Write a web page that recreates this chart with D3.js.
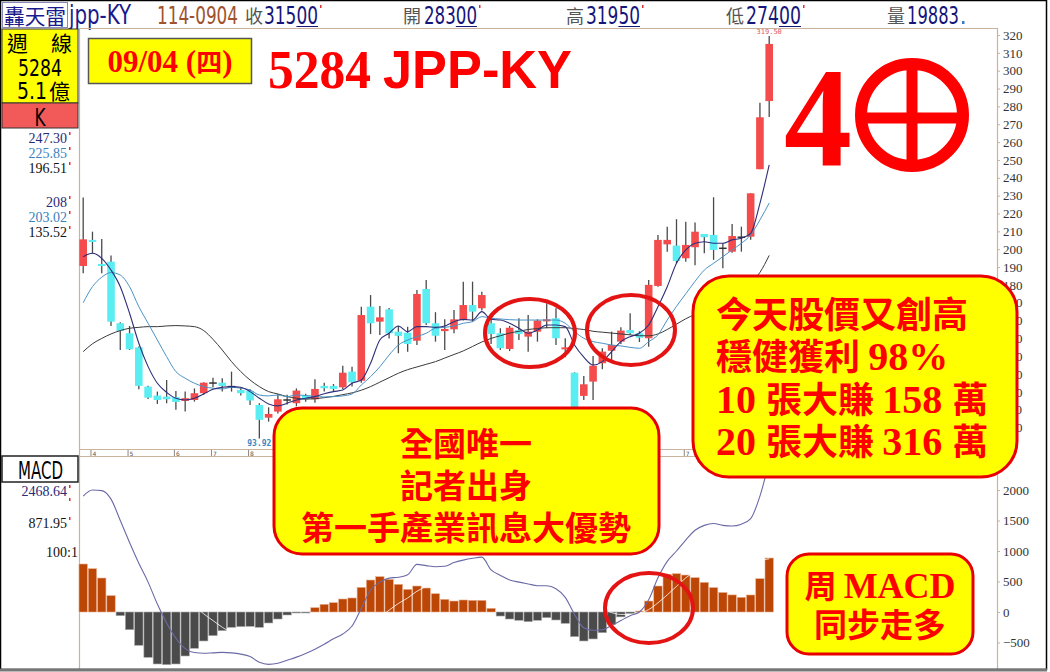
<!DOCTYPE html>
<html>
<head>
<meta charset="utf-8">
<script src="https://cdn.jsdelivr.net/npm/d3@7"></script>
<style>
  body { margin: 0; background: #fff; }
  svg { display: block; }
</style>
</head>
<body>
<svg id="chart"></svg>
<script>
// weekly candles, 5284 JPP-KY (oldest -> newest)
const opens  = [190.6,205.2,191.7,193,158.5,152.9,145,123,118,117.4,117.1,115,115.5,119.3,125,125.2,123,121.1,120.6,112.7,105.6,109,115.5,113.7,118,115.9,123.4,123.4,122.6,131.4,126.3,167.8,159.4,166.3,153.8,153.2,148.7,177.7,158.5,154.1,155.1,160.3,168.7,166.9,158.5,152.9,144.1,154.7,151,153.8,159.8,161.3,143.9,130.8,117.8,125.8,136.1,143.1,148.2,154.7,152.9,150.1,179.4,202.7,202,194.9,201.1,208.5,208,200.5,198.6,206.7,207,244.8,283];
const highs  = [229,209.8,205.7,196.4,159,157,145.5,123.5,120.2,126.7,120.6,120.2,122,125.5,128,127.7,131.4,122.5,121.5,113.7,111.4,118.9,118.5,122,119,127.1,125.2,124.5,134.7,134.1,167.8,174.3,168.2,167,157,156.6,177.1,182.7,164.7,160.7,165.9,181.8,181.8,176.2,164.1,155.7,157,161.3,163.1,160.7,169.7,166.9,150.1,131,128.9,140.2,144.5,153.8,156.2,164.1,154,182.7,208,212.6,216.8,215.4,214.9,208.5,229.1,203.3,214.1,212.6,231.3,282.1,319.5];
const lows   = [186.5,197.7,186.5,157,143.5,143.5,121.5,116,113.3,113.7,110,109,114.6,118.5,122.6,120.2,120.2,118,112.7,93.92,103.4,108,113,112,114.5,114,120.2,120.5,121.7,123,125.2,152.5,151.9,150,141.7,142.6,146.3,157.5,148.2,143.5,152.9,160,159.4,165.6,146.9,143.5,142.9,149.1,142.6,148.2,155.7,146.3,139.5,108,115.5,115.5,132.7,137,146.9,152,148,145.4,179,198.6,192.1,193,191,197.7,194,189.3,198,198.6,205.3,244.8,274];
const closes = [205.5,204.2,191,159.4,154.2,143.9,123.4,116.8,115.5,115.9,114.4,116.5,119.3,125.2,125,123.4,123,119.3,115.2,104.4,107.7,115.9,115.5,120.8,115.9,121.7,122.1,121.7,130.8,125.4,163.1,158.5,161.8,152.9,151.4,146.9,174.9,158.5,151.5,155.3,160.7,168.7,165,174.3,152.5,144.5,156,152.5,153.8,160,160.7,150.1,145,111,124.3,134.7,142.6,146.3,154.4,152.9,150.4,180,205.2,205.2,193.4,202.4,209.8,206.7,199.6,200.5,207.4,206.7,231.3,273.9,315];

// moving averages
const maFast = [195.8,197.7,194.9,188.3,179,164.1,147.3,134.2,124.9,119.8,116.5,115.5,116.5,118.9,121.5,122.6,123,122.6,120.2,116.5,113.3,112.2,113.7,115.5,116.5,117.4,119,120.2,121.1,124.9,126.7,136.1,149.1,152.9,157,153.8,156.6,156.6,156.2,157,159.4,160.7,160.3,165,160.7,160.3,158.5,155.7,152.9,154.7,157.5,157.5,156.6,146.3,139.5,135.1,137,142.6,148.2,151,152.9,157.5,167.8,179,192.1,199.6,203.3,204.2,203.3,203.3,205.2,206.1,208.9,225.7,247.3];
const maMid  = [170,179,184.3,186.9,185.5,179,167.8,158.5,149.1,139.8,131.4,127.7,124.9,123,122.1,121.7,122.6,122.1,121.1,118.3,117.8,118.3,117.4,118.3,118,117.6,117.2,117.4,117.8,118.9,123.9,128.6,134.1,140.7,146.3,149.1,151,152.9,155.7,156.2,157,158.5,159.4,162.2,161.3,160.9,160.5,160.3,160.3,160.3,160.3,160.3,158.5,153.8,150.1,148.2,147.3,146.3,145.8,145,144.5,148.2,152,160.3,168,175,182,188.3,192.1,195.8,199.6,203.3,208,216.4,225.85];
const maSlow = [142.6,147,150,152.5,154.4,155.7,156.2,156.6,156.6,157,157.2,157,156.6,154.4,149.5,143.5,137,131.4,126.7,123,120.2,118.9,117.4,116.5,116,116.2,116.8,117.5,118.5,119.5,121,123,125.5,128,130.5,132.5,134,135.5,137,139,141,143,145.5,148,150,151.5,153,154,155,155.5,156,156,156,155.5,155,154,153.5,153,152.5,152,151.5,151.5,152.5,155,158,161,163.5,166,168,170.5,173.5,177,181,187,196.51];

// MACD panel
const hist = [787,710,557,268,-60,-290,-546,-743,-852,-863,-852,-721,-595,-475,-388,-306,-251,-240,-235,-251,-180,-115,-49,-16,-5,71,126,153,213,230,404,524,579,535,454,371,426,393,300,208,180,197,191,191,60,-66,-115,-136,-158,-136,-93,-131,-186,-404,-475,-442,-339,-200,-80,-25,15,180,426,617,628,606,563,486,400,320,280,240,279,546,885];
const dif  = [1900,2000,1990,1850,1500,1140,800,490,130,-180,-430,-600,-665,-677,-670,-662,-670,-690,-730,-825,-858,-840,-790,-740,-680,-610,-530,-440,-360,-230,60,360,490,555,570,610,780,760,743,750,810,850,880,900,690,600,525,490,460,431,431,380,240,-40,-260,-300,-290,-220,-140,-60,0,200,560,830,1000,1180,1340,1420,1450,1420,1410,1440,1530,1900,2468.64];
const dea  = [1500,1600,1680,1720,1680,1570,1420,1230,1010,770,530,300,110,-30,-140,-250,-340,-410,-470,-540,-600,-650,-680,-690,-690,-680,-650,-610,-560,-490,-380,-230,-90,30,140,230,340,420,490,540,590,640,680,720,710,690,660,630,600,570,540,510,460,360,240,130,50,-10,-40,-40,-20,40,150,280,420,560,660,720,760,790,810,820,830,850,871.95];

// axis labels (month marks that the reference shows)
const monthTicks = [[2,"4"],[6,"5"],[11,"6"],[15,"7"],[19,"8"],[66,"7"]];
const priceTicks = [100,110,120,130,140,150,160,170,180,190,200,210,220,230,240,250,260,270,280,290,300,310,320];
const macdTicks = [-500,0,500,1000,1500,2000];

const W = 1050, H = 672;
const RED = "#ff0000";
const TAN = "#c9b39c";
const CJK = "'Noto Sans CJK TC', 'Noto Sans CJK SC', sans-serif";
const NARROW = "'Liberation Sans Narrow', 'DejaVu Sans Condensed', sans-serif";
const SERIF = "'Liberation Serif', 'DejaVu Serif', serif";

const svg = d3.select("#chart").attr("width", W).attr("height", H);
svg.append("rect").attr("width", W).attr("height", H).attr("fill", "#fff");

const xScale = d3.scaleLinear().domain([1, 75]).range([83.2, 769.2]);
const yPrice = d3.scaleLinear().domain([89, 320]).range([447.3, 35]);
const yMacd = d3.scaleLinear().domain([-500, 2000]).range([642.5, 490]);

function label(g, s, x, y, o) {
  const t = g.append("text").attr("x", x).attr("y", y).text(s)
    .attr("font-family", o.font || NARROW)
    .attr("font-size", o.size || 14)
    .attr("fill", o.fill || "#000");
  if (o.weight) t.attr("font-weight", o.weight);
  if (o.anchor) t.attr("text-anchor", o.anchor);
  if (o.len) t.attr("textLength", o.len).attr("lengthAdjust", "spacingAndGlyphs");
  return t;
}
function mark(g, x, y) {
  g.append("rect").attr("x", x).attr("y", y).attr("width", 1.5).attr("height", 3).attr("fill", "#e03030");
}

// ---------- header bar ----------
const head = svg.append("g");
head.append("rect").attr("x", 2.5).attr("y", 2.5).attr("width", 65).attr("height", 25)
  .attr("fill", "none").attr("stroke", "#8a8ab8");
label(head, "轟天雷", 4, 24, {font: CJK, size: 21, fill: "#1a1a8c", len: 62});
label(head, "jpp-KY", 69, 24, {size: 26, fill: "#1a1a8c", len: 62});
label(head, "114-0904", 157, 24, {size: 25, fill: "#a0522d", len: 81});
const headItems = [["收", 245, "31500", 264, 54], ["開", 403, "28300", 424, 53], ["高", 566, "31950", 586, 54], ["低", 726, "27400", 746, 55]];
headItems.forEach(d => {
  label(head, d[0], d[1], 23, {font: CJK, size: 18, fill: "#555", len: 18});
  label(head, d[2], d[3], 24, {size: 25, fill: "#15157a", len: d[4]});
  head.append("line").attr("x1", d[3] + d[4] * 0.6).attr("x2", d[3] + d[4]).attr("y1", 26.5).attr("y2", 26.5)
    .attr("stroke", "#15157a").attr("stroke-width", 1);
  mark(head, d[3] + d[4] + 2, 5);
});
label(head, "量", 887, 23, {font: CJK, size: 18, fill: "#555", len: 18});
label(head, "19883", 907, 24, {size: 25, fill: "#15157a", len: 52});
head.append("rect").attr("x", 962).attr("y", 21).attr("width", 2.5).attr("height", 3).attr("fill", "#3a7ad0");

// ---------- frame lines ----------
const frame = svg.append("g").attr("stroke", TAN).attr("stroke-width", 1.2);
frame.append("line").attr("x1", 79).attr("x2", 997).attr("y1", 28.5).attr("y2", 28.5);
frame.append("line").attr("x1", 79.5).attr("x2", 79.5).attr("y1", 28).attr("y2", 669);
frame.append("line").attr("x1", 997.5).attr("x2", 997.5).attr("y1", 28).attr("y2", 669);
frame.append("line").attr("x1", 79).attr("x2", 997).attr("y1", 449.5).attr("y2", 449.5);
frame.append("line").attr("x1", 79).attr("x2", 997).attr("y1", 456.5).attr("y2", 456.5);

// ---------- left panel ----------
const left = svg.append("g");
left.append("rect").attr("x", 2).attr("y", 29).attr("width", 76).attr("height", 74)
  .attr("fill", "#ffff00").attr("stroke", "#333");
label(left, "週", 7, 51, {font: CJK, size: 21});
label(left, "線", 51, 51, {font: CJK, size: 21});
label(left, "5284", 18, 76, {size: 23, len: 44});
label(left, "5.1", 17, 99, {size: 23, len: 30});
label(left, "億", 49, 99, {font: CJK, size: 21});
left.append("rect").attr("x", 2).attr("y", 103).attr("width", 76).attr("height", 25)
  .attr("fill", "#f25a5a").attr("stroke", "#333");
label(left, "K", 40, 126, {size: 24, anchor: "middle", len: 11});

const sideVals = [["247.30", 143, "#2a2a78"], ["225.85", 158, "#3a7fc0"], ["196.51", 173, "#111"],
                  ["208", 207, "#2a2a78"], ["203.02", 222, "#3a7fc0"], ["135.52", 237, "#111"]];
sideVals.forEach(d => {
  label(left, d[0], 67, d[1], {font: SERIF, size: 14, fill: d[2], anchor: "end"});
  mark(left, 69, d[1] - 11);
});

left.append("rect").attr("x", 2).attr("y", 456).attr("width", 76).attr("height", 26)
  .attr("fill", "#fff").attr("stroke", "#222").attr("stroke-width", 1.5);
label(left, "MACD", 18, 479, {size: 25, len: 45});
label(left, "2468.64", 67, 496, {font: SERIF, size: 14, fill: "#2a2a78", anchor: "end"});
mark(left, 69, 485);
mark(left, 69, 498);
label(left, "871.95", 67, 528, {font: SERIF, size: 14, fill: "#111", anchor: "end"});
mark(left, 69, 517);
label(left, "100:1", 78, 557, {font: SERIF, size: 14, fill: "#111", anchor: "end"});

// ---------- right axes ----------
const axisP = svg.append("g").attr("transform", "translate(997,0)")
  .call(d3.axisRight(yPrice).tickValues(priceTicks).tickSize(3).tickPadding(3));
const axisM = svg.append("g").attr("transform", "translate(997,0)")
  .call(d3.axisRight(yMacd).tickValues(macdTicks).tickFormat(d3.format("d")).tickSize(3).tickPadding(3));
[axisP, axisM].forEach(a => {
  a.select(".domain").remove();
  a.selectAll(".tick line").attr("stroke", TAN);
  a.selectAll(".tick text").attr("font-family", SERIF).attr("font-size", 13).attr("fill", "#333");
});

// ---------- month ticks ----------
const months = svg.append("g");
monthTicks.forEach(d => {
  const x = xScale(d[0]) - 2;
  months.append("line").attr("x1", x + 0.5).attr("x2", x + 0.5).attr("y1", 450).attr("y2", 456)
    .attr("stroke", "#888");
  label(months, d[1], x + 2, 455.5, {font: "'DejaVu Sans'", size: 6, fill: "#555"});
});

// ---------- candles ----------
const candles = svg.append("g");
const bw = 7.6;
closes.forEach((c, i) => {
  const x = xScale(i + 1), o = opens[i];
  candles.append("line").attr("x1", x).attr("x2", x)
    .attr("y1", yPrice(highs[i])).attr("y2", yPrice(lows[i]))
    .attr("stroke", "#4a4a4a").attr("stroke-width", 1.3);
  if (c === o) {
    candles.append("line").attr("x1", x - bw / 2).attr("x2", x + bw / 2)
      .attr("y1", yPrice(c)).attr("y2", yPrice(c)).attr("stroke", "#333").attr("stroke-width", 1.5);
  } else {
    const top = yPrice(Math.max(o, c)), bot = yPrice(Math.min(o, c));
    candles.append("rect").attr("x", x - bw / 2).attr("y", top)
      .attr("width", bw).attr("height", Math.max(2, bot - top))
      .attr("fill", c > o ? "#f44c4c" : "#5aeef2");
  }
});

const priceLine = d3.line().x((d, i) => xScale(i + 1)).y(d => yPrice(d)).curve(d3.curveMonotoneX);
svg.append("path").datum(maSlow).attr("d", priceLine).attr("fill", "none").attr("stroke", "#3a3a3a").attr("stroke-width", 1);
svg.append("path").datum(maMid).attr("d", priceLine).attr("fill", "none").attr("stroke", "#4a92c4").attr("stroke-width", 1);
svg.append("path").datum(maFast).attr("d", priceLine).attr("fill", "none").attr("stroke", "#2e2e7a").attr("stroke-width", 1.1);

label(svg, "319.50", xScale(75), 34, {font: "'DejaVu Sans Mono'", size: 7, fill: "#e05858", anchor: "middle"});
label(svg, "93.92", xScale(20), 446, {font: "'DejaVu Sans Mono'", size: 8, fill: "#3a86c0", anchor: "middle", weight: "bold"});

// ---------- MACD ----------
const macd = svg.append("g");
macd.selectAll("rect").data(hist).enter().append("rect")
  .attr("x", (d, i) => xScale(i + 1) - 4.2)
  .attr("y", d => yMacd(Math.max(0, d)))
  .attr("width", 8.4)
  .attr("height", d => Math.max(1, Math.abs(yMacd(d) - yMacd(0))))
  .attr("fill", d => d >= 0 ? "#bb4606" : "#4a4a4a")
  .attr("stroke", d => d >= 0 ? "#e8b090" : "#aaa").attr("stroke-width", 0.6);
const macdLine = d3.line().x((d, i) => xScale(i + 1)).y(d => yMacd(d)).curve(d3.curveMonotoneX);
// signal line is white: only shows where it crosses the bars
macd.append("path").datum(dea).attr("d", macdLine).attr("fill", "none").attr("stroke", "#ffffff").attr("stroke-width", 1).attr("opacity", 0.8);
macd.append("path").datum(dif).attr("d", macdLine).attr("fill", "none").attr("stroke", "#6a6aa6").attr("stroke-width", 1.1);

// ---------- annotations ----------
const ann = svg.append("g");
ann.append("rect").attr("x", 88.5).attr("y", 38.5).attr("width", 163).attr("height", 45)
  .attr("fill", "#ffff00").attr("stroke", "#555").attr("stroke-width", 1.5);
const dt = ann.append("text").attr("x", 170).attr("y", 72).attr("text-anchor", "middle")
  .attr("fill", RED).attr("font-weight", "bold").attr("font-size", 31);
dt.append("tspan").attr("font-family", SERIF).text("09/04 (");
dt.append("tspan").attr("font-family", CJK).attr("font-size", 26).text("四");
dt.append("tspan").attr("font-family", SERIF).text(")");

label(ann, "5284", 268, 88, {font: SERIF, size: 55, fill: RED, weight: "bold", len: 103});
label(ann, "JPP-KY", 383, 88, {font: "'Liberation Sans', Arial, sans-serif", size: 53, fill: RED, weight: "bold", len: 189});

label(ann, "4", 784, 165, {font: SERIF, size: 142, fill: RED, weight: "bold", len: 68});
ann.append("circle").attr("cx", 912).attr("cy", 115).attr("r", 51)
  .attr("fill", "none").attr("stroke", RED).attr("stroke-width", 12);
ann.append("line").attr("x1", 912).attr("x2", 912).attr("y1", 62).attr("y2", 168).attr("stroke", RED).attr("stroke-width", 11);
ann.append("line").attr("x1", 859).attr("x2", 965).attr("y1", 118).attr("y2", 118).attr("stroke", RED).attr("stroke-width", 11);

[[530, 333, 45, 34], [631, 330, 44, 35], [649, 608, 44, 35]].forEach(e => {
  ann.append("ellipse").attr("cx", e[0]).attr("cy", e[1]).attr("rx", e[2]).attr("ry", e[3])
    .attr("fill", "none").attr("stroke", "#e41414").attr("stroke-width", 4);
});

function bubble(x, y, w, h, r) {
  ann.append("rect").attr("x", x).attr("y", y).attr("width", w).attr("height", h)
    .attr("rx", r).attr("ry", r).attr("fill", "#ffff00").attr("stroke", "#e80000").attr("stroke-width", 3);
}

bubble(274, 408, 385, 146, 28);
[["全國唯一", 456], ["記者出身", 498], ["第一手產業訊息大優勢", 540]].forEach(d => {
  label(ann, d[0], 466, d[1], {font: CJK, size: 33, fill: RED, weight: "bold", anchor: "middle"});
});

bubble(693, 276, 324, 201, 36);
const rightLines = [
  [["今天股價又創高", CJK]],
  [["穩健獲利 ", CJK], ["98%", SERIF]],
  [["10 ", SERIF], ["張大賺 ", CJK], ["158 ", SERIF], ["萬", CJK]],
  [["20 ", SERIF], ["張大賺 ", CJK], ["316 ", SERIF], ["萬", CJK]]
];
[328, 370, 413, 455].forEach((y, k) => {
  const t = ann.append("text").attr("x", 716).attr("y", y).attr("fill", RED).attr("font-weight", "bold");
  rightLines[k].forEach(p => {
    t.append("tspan").attr("font-family", p[1]).attr("font-size", p[1] === SERIF ? 40 : 36).text(p[0]);
  });
});

bubble(787, 554, 186, 100, 22);
const m1 = ann.append("text").attr("x", 880).attr("y", 598).attr("text-anchor", "middle")
  .attr("fill", RED).attr("font-weight", "bold");
m1.append("tspan").attr("font-family", CJK).attr("font-size", 32).text("周 ");
m1.append("tspan").attr("font-family", SERIF).attr("font-size", 36).text("MACD");
label(ann, "同步走多", 880, 637, {font: CJK, size: 33, fill: RED, weight: "bold", anchor: "middle"});

// outer frame
svg.append("rect").attr("x", 0.5).attr("y", 0.5).attr("width", 1046).attr("height", 669)
  .attr("fill", "none").attr("stroke", "#000").attr("stroke-width", 1.5);
svg.append("line").attr("x1", 0).attr("x2", 1047).attr("y1", 670).attr("y2", 670)
  .attr("stroke", "#777").attr("stroke-width", 3);
</script>
</body>
</html>
